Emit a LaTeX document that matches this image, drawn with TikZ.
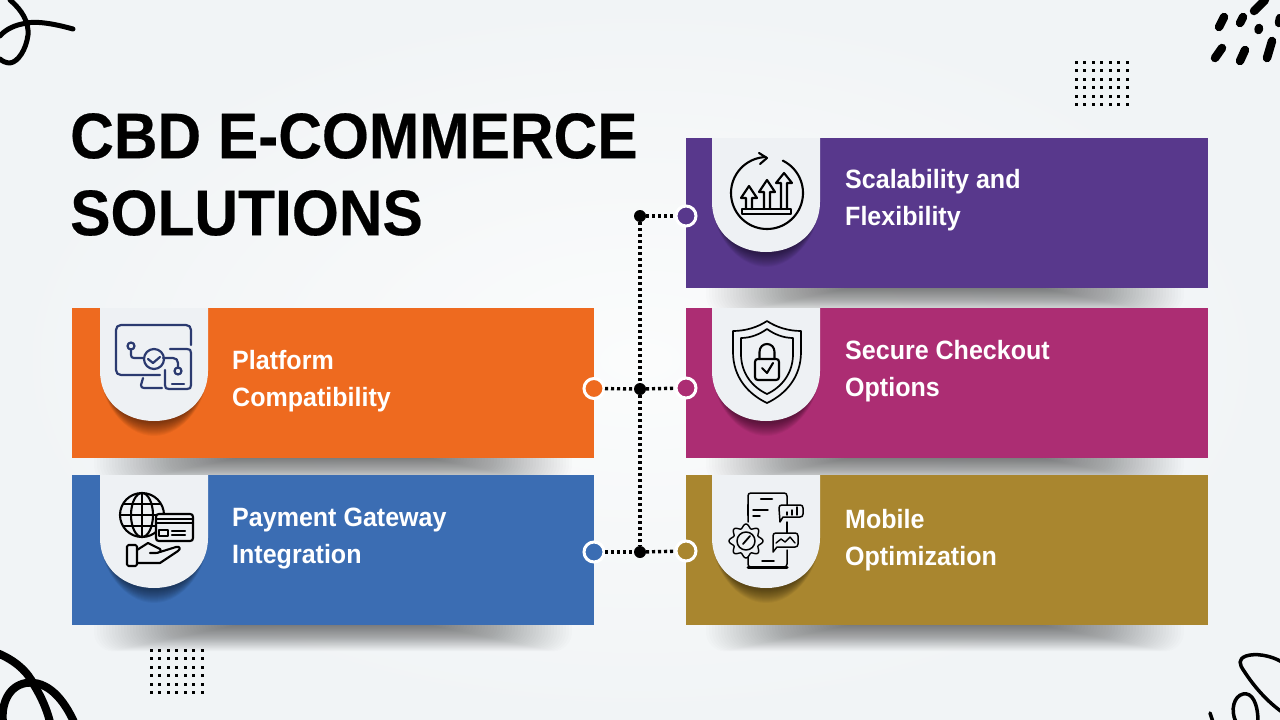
\documentclass[tikz,border=0pt]{standalone}
\usepackage{fontspec}
\setmainfont{Liberation Sans}
\newfontfamily\titlef[UprightFont=* Bold,FakeStretch=0.937,FakeBold=0.35]{Liberation Sans}
\newfontfamily\lblf[UprightFont=* Bold,FakeStretch=0.945]{Liberation Sans}
\definecolor{cOrange}{HTML}{EE6A1F}
\definecolor{cBlue}{HTML}{3B6DB3}
\definecolor{cPurple}{HTML}{58388C}
\definecolor{cMagenta}{HTML}{AC2D73}
\definecolor{cGold}{HTML}{A9862F}
\definecolor{cTab}{HTML}{EEF1F4}
\definecolor{cNavy}{HTML}{2B3A70}
\definecolor{bgIn}{HTML}{FBFCFC}
\definecolor{bgOut}{HTML}{F1F4F6}
\tikzset{
  card/.style={anchor=north west,minimum width=522pt,minimum height=150pt,inner sep=0pt,outer sep=0pt},
  lbl/.style={anchor=west,align=left,text=white,inner sep=0pt,font=\fontsize{26.5pt}{37pt}\selectfont\lblf},
  titletext/.style={anchor=west,align=left,text=black,inner sep=0pt,font=\fontsize{64.5pt}{77pt}\selectfont\titlef},
  portc/.style={circle,draw=white,line width=3pt,minimum size=20pt,inner sep=0pt,outer sep=1pt},
  junc/.style={circle,fill=black,minimum size=12pt,inner sep=0pt,outer sep=0pt},
  dotline/.style={draw=black,line width=3.4pt,dash pattern=on 3.2pt off 2.8pt},
  icon/.style={line width=2.1pt,line cap=round,line join=round,draw=black},
  navy/.style={line width=2.2pt,line cap=round,line join=round,draw=cNavy},
  scribble/.style={line cap=round,line join=round,draw=black},
}
\newcommand{\tabpath}[5]{% x y0 y1 xgrow ygrow
  (#1-#4,#2) -- (#1-#4,#3-50) .. controls (#1-#4,#3-20) and (#1+24,#3+#5) .. (#1+54,#3+#5)
  .. controls (#1+84,#3+#5) and (#1+108+#4,#3-20) .. (#1+108+#4,#3-50) -- (#1+108+#4,#2) -- cycle}
\newcommand{\tabdraw}[5]{% x y0 y1 cardx cardy1
  \begin{scope}
    \clip (#4,#2) rectangle (#4+522,#5);
    \foreach \d in {1,...,14}{\pgfmathsetmacro\gx{\d*0.3-4.2}\fill[black,opacity=0.04] \tabpath{#1}{#3-60}{#3}{\gx}{\d+1};}
  \end{scope}
  \fill[cTab] \tabpath{#1}{#2}{#3}{0}{0};}
\newcommand{\cardshadow}[2]{% centre x, bottom y
  \foreach \i in {1,...,48}{\fill[black,opacity=0.012,rounded corners={\i*0.4pt}] ({#1-95-3*\i},{#2-30}) rectangle ({#1+95+3*\i},{#2+\i*0.55});}}
\newcommand{\uparr}[4]{% x ytop ywing ybot
  \draw[icon] (#1-3,#4) -- (#1-3,#3) -- (#1-8,#3) -- (#1,#2) -- (#1+8,#3) -- (#1+3,#3) -- (#1+3,#4);}
\newcommand{\gridd}[2]{%
  \foreach \a in {0,...,6}{\foreach \b in {0,...,5}{\fill[black] ({#1+8.5*\a-1.5},{#2+8.5*\b-1.5}) rectangle ++(3,3);}}}
\begin{document}
\begin{tikzpicture}[x=1pt,y=-1pt]
\useasboundingbox (0,0) rectangle (1280,720);
\shade[inner color=bgIn,outer color=bgOut] (0,0) rectangle (1280,720);

% decorative scribbles
\draw[scribble,line width=5pt] (73,29) .. controls (55,24) and (35,20) .. (22,24) .. controls (12,26) and (4,31) .. (0,36);
\draw[scribble,line width=5pt] (10,0) .. controls (22,10) and (29,22) .. (28,35) .. controls (26,50) and (18,62) .. (10,63) .. controls (6,63) and (2,61) .. (0,59);
\foreach \ax/\ay/\bx/\by in {1224/17/1219/27,1243/17/1240/23,1265/0/1254/11,1259/28/1258.5/30,1280/18/1279/23,1222/48/1215/58,1245/50/1240/61,1272/41/1267/58}
  \draw[scribble,line width=8.5pt] (\ax,\ay) -- (\bx,\by);
\gridd{1076}{62}
\gridd{151}{650}
\draw[scribble,line width=8pt] (-3,653) .. controls (15,660) and (28,672) .. (34,685) .. controls (42,698) and (47,710) .. (50,722);
\draw[scribble,line width=8pt] (3,722) .. controls (1,705) and (8,686) .. (26,683) .. controls (48,680) and (64,700) .. (74,722);
\draw[scribble,line width=3.5pt] (1282,662) .. controls (1270,655) and (1255,653) .. (1246,656) .. controls (1238,659) and (1239,664) .. (1244,671) .. controls (1255,688) and (1268,702) .. (1282,712);
\draw[scribble,line width=3.5pt] (1210,713) -- (1213,722);
\draw[scribble,line width=3.5pt] (1236,722) .. controls (1230,710) and (1234,696) .. (1243,694) .. controls (1252,692) and (1258,703) .. (1258,722);

% title
\node[titletext] (title) at (70,174.5) {CBD E-COMMERCE\\SOLUTIONS};

% card shadows
\cardshadow{945}{288}
\cardshadow{945}{458}
\cardshadow{945}{625}
\cardshadow{333}{458}
\cardshadow{333}{625}

% cards
\node[card,fill=cOrange] (c1) at (72,308) {};
\node[card,fill=cBlue] (c2) at (72,475) {};
\node[card,fill=cPurple] (c3) at (686,138) {};
\node[card,fill=cMagenta] (c4) at (686,308) {};
\node[card,fill=cGold] (c5) at (686,475) {};

% tabs
\tabdraw{100}{308}{421}{72}{458}
\tabdraw{100}{475}{588}{72}{625}
\tabdraw{712}{138}{252}{686}{288}
\tabdraw{712}{308}{421}{686}{458}
\tabdraw{712}{475}{588}{686}{625}

% labels
\node[lbl] (t1) at (232,381) {Platform\\Compatibility};
\node[lbl] (t2) at (232,539) {Payment Gateway\\Integration};
\node[lbl] (t3) at (845,200) {Scalability and\\Flexibility};
\node[lbl] (t4) at (845,371) {Secure Checkout\\Options};
\node[lbl] (t5) at (845,540.5) {Mobile\\Optimization};

% ports and junctions
\node[portc,fill=cPurple] (p3) at (686,216) {};
\node[portc,fill=cMagenta] (p4) at (686,388) {};
\node[portc,fill=cGold] (p5) at (686,551) {};
\node[portc,fill=cOrange] (p1) at (594,388.5) {};
\node[portc,fill=cBlue] (p2) at (594,552) {};
\node[junc] (j1) at (640,216) {};
\node[junc] (j2) at (640,389) {};
\node[junc] (j3) at (640,552) {};
\draw[dotline] (j1) -- (p3);
\draw[dotline] (j2) -- (p4);
\draw[dotline] (j3) -- (p5);
\draw[dotline] (p1) -- (j2);
\draw[dotline] (p2) -- (j3);
\draw[dotline] (j1) -- (j2);
\draw[dotline] (j2) -- (j3);

% icon: scalability
\draw[icon] plot[domain=-64:268,samples=70,smooth] ({767+36*cos(\x)},{193+36*sin(\x)});
\draw[icon] (759,153) -- (767,158) -- (760,164);
\draw[icon] (742,209) rectangle (791,214);
\uparr{749}{186}{198}{209}
\uparr{767}{180}{192}{209}
\uparr{784}{173}{183}{209}

% icon: platform
\draw[navy] (191,345) -- (191,330) .. controls (191,327) and (189,325) .. (186,325) -- (121,325) .. controls (118,325) and (116,327) .. (116,330) -- (116,370) .. controls (116,373) and (118,375) .. (121,375) -- (160,375);
\draw[navy] (131,346) circle[radius=3.5pt];
\draw[navy] (131,350) -- (131,355) .. controls (131,357) and (132,358) .. (134,358) -- (144,358);
\draw[navy] (154,359) circle[radius=10pt];
\draw[navy] (148,359) -- (153,363) -- (160,357);
\draw[navy] (170,349) -- (187,349) .. controls (190,349) and (191,350) .. (191,353) -- (191,385) .. controls (191,388) and (190,389) .. (187,389) -- (169,389) .. controls (166,389) and (165,388) .. (165,385) -- (165,370);
\draw[navy] (172,384) -- (184,384);
\draw[navy] (163,358) -- (173,358) .. controls (176,358) and (178,360) .. (178,363) -- (178,367);
\draw[navy] (178,371) circle[radius=3.5pt];
\draw[navy] (143,378) -- (141,385) .. controls (141,387) and (142,388) .. (144,388) -- (162,388);

% icon: payment
\draw[icon] (142,515) circle[radius=22pt];
\draw[icon] (142,515) ellipse[x radius=11pt,y radius=22pt];
\draw[icon] (142,493) -- (142,537);
\draw[icon] (120,515) -- (164,515);
\draw[icon] (124,504) -- (160,504);
\draw[icon] (124,526) -- (160,526);
\draw[icon,fill=cTab] (159,514) -- (190,514) .. controls (192,514) and (193,515) .. (193,517) -- (193,538) .. controls (193,540) and (192,541) .. (190,541) -- (159,541) .. controls (157,541) and (156,540) .. (156,538) -- (156,517) .. controls (156,515) and (157,514) .. (159,514) -- cycle;
\draw[icon] (156,519) -- (193,519);
\draw[icon] (156,523) -- (193,523);
\draw[icon] (159,530) rectangle (168,536);
\draw[icon] (172,531) -- (185,531);
\draw[icon] (172,535) -- (185,535);
\draw[icon] (128.5,545) -- (135.5,545) .. controls (136.5,545) and (137,545.5) .. (137,546.5) -- (137,564.5) .. controls (137,565.5) and (136.5,566) .. (135.5,566) -- (128.5,566) .. controls (127.5,566) and (127,565.5) .. (127,564.5) -- (127,546.5) .. controls (127,545.5) and (127.5,545) .. (128.5,545) -- cycle;
\draw[icon] (137,550) -- (148,543) -- (160,549) .. controls (162,551) and (159,553) .. (156,553) -- (150,553);
\draw[icon] (160,552) -- (176,547) .. controls (180,546) and (181,549) .. (178,551) -- (160,563) -- (137,563);

% icon: shield
\draw[icon,line width=1.7pt] (767,321) .. controls (758,327) and (746,331) .. (733,331) -- (733,352) .. controls (733,377) and (748,394) .. (767,403) .. controls (786,394) and (801,377) .. (801,352) -- (801,331) .. controls (788,331) and (776,327) .. (767,321) -- cycle;
\draw[icon,line width=1.7pt] (767,329) .. controls (760,334) and (751,338) .. (741,338) -- (741,354) .. controls (741,373) and (752,387) .. (767,394) .. controls (782,387) and (793,373) .. (793,354) -- (793,338) .. controls (783,338) and (774,334) .. (767,329) -- cycle;
\draw[icon] (758,359) -- (776,359) .. controls (778,359) and (779,360) .. (779,362) -- (779,377) .. controls (779,379) and (778,380) .. (776,380) -- (758,380) .. controls (756,380) and (755,379) .. (755,377) -- (755,362) .. controls (755,360) and (756,359) .. (758,359) -- cycle;
\draw[icon] (759.5,359) -- (759.5,352) .. controls (759.5,347) and (763,344) .. (767,344) .. controls (771,344) and (774.5,347) .. (774.5,352) -- (774.5,359);
\draw[icon] (762,368) -- (767,373) -- (773,363);

% icon: mobile
\draw[icon,line width=1.5pt] (787,505) -- (787,496) .. controls (787,494) and (786,493) .. (784,493) -- (751,493) .. controls (749,493) and (748,494) .. (748,496) -- (748,522);
\draw[icon,line width=1.5pt] (748,556) -- (748,564) .. controls (748,566) and (749,567) .. (751,567) -- (784,567) .. controls (786,567) and (787,566) .. (787,564) -- (787,550);
\draw[icon,line width=1.5pt] (787,522) -- (787,533);
\draw[icon,line width=3pt] (748,567) -- (787,567);
\draw[icon,line width=2.5pt] (761,499) -- (772,499);
\draw[icon,line width=2.5pt] (748,505) -- (748,515);
\draw[icon,line width=1.5pt] (762,561) -- (774,561);
\draw[icon,line width=1.4pt] (753,510) -- (768,510);
\draw[icon,line width=1.4pt] (753,516) -- (760,516);
\draw[icon,fill=cTab,line width=1.5pt] (782,505) -- (800,505) .. controls (802,505) and (803,506) .. (803,508) -- (803,514) .. controls (803,516) and (802,517) .. (800,517) -- (783,517) -- (780,522) -- (779,508) .. controls (779,506) and (780,505) .. (782,505) -- cycle;
\draw[icon,line width=1.4pt] (787,512) -- (787,515);
\draw[icon,line width=1.4pt] (792,510) -- (792,515);
\draw[icon,line width=1.4pt] (797,507) -- (797,515);
\draw[icon,fill=cTab,line width=1.5pt] (776,533) -- (795,533) .. controls (797,533) and (798,534) .. (798,536) -- (798,544) .. controls (798,546) and (797,547) .. (795,547) -- (777,547) -- (773,552) -- (773,536) .. controls (773,534) and (774,533) .. (776,533) -- cycle;
\draw[icon,line width=1.4pt] (776,543) -- (781,539) -- (785,542) -- (790,537) -- (795,543);
\draw[icon,fill=cTab,line width=1.4pt] plot[domain=0:360,samples=121,smooth] ({746+(15+2*cos(8*\x))*cos(\x)},{541+(15+2*cos(8*\x))*sin(\x)}) -- cycle;
\draw[icon,line width=1.5pt] (746,541) circle[radius=9pt];
\draw[icon,line width=1.8pt] (743,544) -- (750,536);
\end{tikzpicture}
\end{document}
